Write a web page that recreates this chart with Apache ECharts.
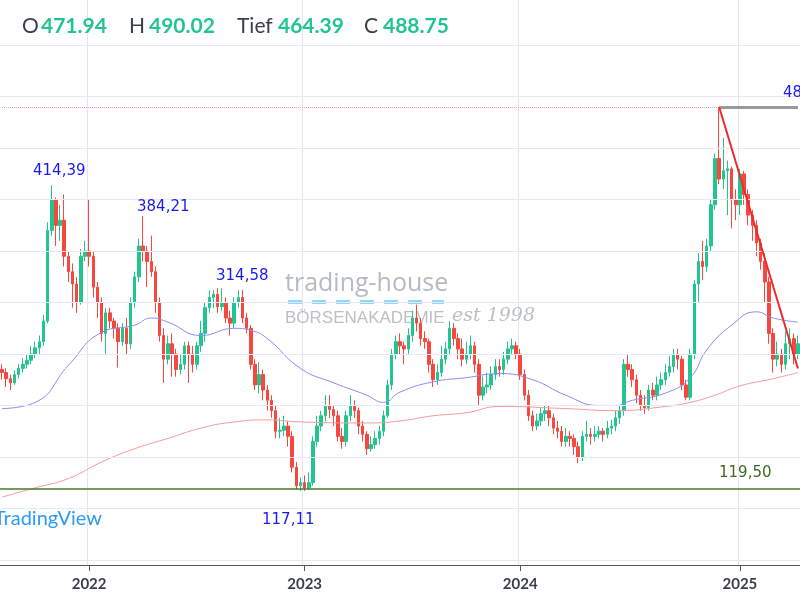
<!DOCTYPE html>
<html>
<head>
<meta charset="utf-8">
<script src="https://cdn.jsdelivr.net/npm/echarts@6/dist/echarts.min.js"></script>
<style>
html, body { margin: 0; padding: 0; background: #fff; }
#chart { width: 800px; height: 600px; }
</style>
</head>
<body>
<div id="chart"></div>
<script>
// weekly candles, first week 2021-08-09
var startDate = '2021-08-09';
var firstOpen = 235;
var closes = [232,226,222,230,236,240,244,250,256,262,
	282,370,400,375,380,345,330,318,300,345,
	350,345,315,300,270,290,282,275,262,275,
	260,300,325,355,350,340,330,300,268,245,
	260,250,235,240,258,250,240,258,270,295,
	305,308,296,300,285,280,300,305,285,275,
	240,220,230,215,205,195,175,176,180,170,
	140,122,125,120,125,165,180,190,200,196,
	190,170,165,190,200,195,180,172,158,162,
	168,175,190,220,250,262,258,255,268,285,
	280,265,262,240,225,232,245,255,275,265,
	255,245,250,258,240,210,218,220,230,238,
	235,245,255,258,250,230,210,190,180,185,
	192,195,188,178,175,165,170,168,160,150,
	170,172,170,172,175,172,178,180,188,195,
	240,235,225,210,200,198,215,210,220,225,
	232,238,250,245,220,208,250,318,340,335,
	355,395,440,420,428,430,400,395,425,405,
	385,375,358,340,320,270,245,250,240,260,
	265,250,260];
var highs = [240,236,230,234,240,246,250,258,262,268,
	288,378,414,402,395,405,350,338,325,352,
	360,400,350,320,305,295,295,285,280,280,
	285,305,330,362,384,355,365,335,305,275,
	268,270,255,250,262,262,258,262,282,300,
	312,312,314,314,305,292,305,312,312,290,
	278,245,242,235,220,210,200,188,190,185,
	175,145,130,132,135,170,190,195,210,210,
	200,195,178,195,210,205,198,185,175,170,
	175,180,195,225,255,268,270,262,275,292,
	298,285,272,265,245,240,258,262,282,280,
	270,265,262,268,262,245,228,232,238,245,
	245,252,262,265,262,255,235,215,195,192,
	198,200,200,192,185,180,178,175,172,165,
	175,185,178,180,180,178,185,186,195,200,
	245,250,240,230,215,210,220,222,228,232,
	240,248,255,255,248,225,255,322,348,360,
	362,400,445,490,460,438,432,410,430,428,
	410,390,380,362,348,325,275,262,255,272,
	275,270,268];
var lows = [225,218,215,220,226,232,236,240,246,250,
	258,280,365,355,360,335,320,295,290,298,
	340,335,305,285,262,250,275,265,237,258,
	250,255,295,320,340,315,325,290,262,222,
	240,228,228,230,235,222,232,235,252,262,
	290,295,290,292,280,268,275,295,280,270,
	235,215,212,205,195,188,168,168,170,160,
	135,118,117,117,118,122,160,175,185,188,
	180,165,158,160,185,188,172,165,152,155,
	158,162,170,188,215,245,250,240,250,262,
	272,258,255,232,218,220,228,240,250,258,
	245,238,240,245,232,200,205,212,215,225,
	228,230,240,250,245,225,205,185,175,176,
	180,185,180,172,168,160,160,160,152,144,
	146,165,162,165,168,165,168,172,175,182,
	190,228,218,202,195,192,195,205,205,215,
	220,228,232,235,215,205,205,245,300,322,
	330,350,390,415,410,385,372,380,385,395,
	375,360,345,332,300,260,232,238,232,235,
	245,240,245];

// moving averages read at sample weeks (null between)
var maIdx   = [0,8,16,24,32,36,40,48,56,60,64,72,80,88,92,96,104,112,120,128,136,144,148,152,160,166,170,176,182,186,192];
var maBlue  = [197,203,239,271,278,285,281,268,275,273,265,236,222,210,203,213,223,227,231,225,210,200,200,205,212,227,254,278,291,285,281];
var redIdx  = [0,8,16,24,32,40,48,56,64,72,88,96,104,112,120,136,148,160,166,172,178,186,192];
var maRed   = [111,120,129,145,158,168,178,184,186,184,183,185,190,193,199,197,195,199,203,210,219,226,232];

var gridVals = [50,100,150,200,250,300,350,400,450,500,550];
var peakIdx = 173, peakHigh = 490.02;
var trendEnd = [192, 236];
var supportLevel = 119.5;

var dates = [];
var d0 = new Date(startDate + 'T00:00:00Z');
for( var i = 0; i < closes.length; i++ ){
	var d = new Date(d0.getTime() + i * 7 * 86400000);
	dates.push(d.toISOString().slice(0, 10));
}
var candles = [];
for( i = 0; i < closes.length; i++ ){
	var o = i === 0 ? firstOpen : closes[i - 1];
	candles.push([o, closes[i], lows[i], highs[i]]);
}
var fill = function(idx, vals){
	var arr = new Array(closes.length).fill(null);
	for( var k = 0; k < idx.length; k++ ) arr[idx[k]] = vals[k];
	return arr;
};
var yearStart = function(index){
	return index > 0 && dates[index].slice(0, 4) !== dates[index - 1].slice(0, 4);
};

var chart = echarts.init(document.getElementById('chart'));
var txt = function(x, y, s, color, size, weight, family){
	return {type:'text', left:x, top:y, z:10, style:{text:s, fill:color, font:(weight || 'normal') + ' ' + size + 'px ' + (family || 'Lato, sans-serif')}};
};
var lbl = function(x, y, s, color){
	return txt(x, y, s, color, 15, 'normal', '"DejaVu Sans", sans-serif');
};
chart.setOption({
	animation:false,
	grid:{left:0, right:0, top:0, bottom:35},
	xAxis:{
		type:'category', data:dates, boundaryGap:true,
		axisLine:{lineStyle:{color:'#555'}},
		axisTick:{show:true, interval:yearStart, alignWithLabel:true, length:6, lineStyle:{color:'#555'}},
		axisLabel:{interval:yearStart, formatter:function(v){return v.slice(0, 4);}, color:'#3a3f4a', fontSize:15, fontWeight:'bold', fontFamily:'Lato', margin:12},
		splitLine:{show:true, interval:yearStart, lineStyle:{color:'#e4e4f4'}}
	},
	yAxis:{type:'value', min:45, max:594, show:false, splitLine:{show:false}},
	series:[
		{
			type:'candlestick', data:candles, barWidth:3,
			itemStyle:{color:'#22c58d', color0:'#f7473f', borderColor:'#22c58d', borderColor0:'#f7473f', borderWidth:1},
			markLine:{
				silent:true, symbol:'none', label:{show:false},
				data:gridVals.map(function(v){return {yAxis:v, lineStyle:{color:'#e8e8f6', type:'solid', width:1}};})
					.concat([
						{yAxis:supportLevel, lineStyle:{color:'#4a7a2a', type:'solid', width:1.5}},
						[{coord:[0, peakHigh], lineStyle:{color:'#ec9cc0', type:'dotted', width:1}}, {coord:[peakIdx, peakHigh]}],
						[{coord:[peakIdx, peakHigh], lineStyle:{color:'#9a9a9a', type:'solid', width:3}}, {coord:[closes.length - 1, peakHigh]}],
						[{coord:[peakIdx, peakHigh], lineStyle:{color:'#ee2b2b', type:'solid', width:2}}, {coord:trendEnd}]
					])
			},
			z:3
		},
		{type:'line', data:fill(maIdx, maBlue), connectNulls:true, smooth:true, showSymbol:false, lineStyle:{color:'#8a8cf0', width:1}, z:4},
		{type:'line', data:fill(redIdx, maRed), connectNulls:true, smooth:true, showSymbol:false, lineStyle:{color:'#f59a9a', width:1}, z:4}
	],
	graphic:[
		txt(22, 16, 'O', '#3a3f4a', 21), txt(41, 16, '471.94', '#22c58d', 21, 'bold'),
		txt(129, 16, 'H', '#3a3f4a', 21), txt(149, 16, '490.02', '#22c58d', 21, 'bold'),
		txt(237, 16, 'Tief', '#3a3f4a', 21), txt(278, 16, '464.39', '#22c58d', 21, 'bold'),
		txt(364, 16, 'C', '#3a3f4a', 21), txt(383, 16, '488.75', '#22c58d', 21, 'bold'),
		lbl(33, 164, '414,39', '#1a1aee'), lbl(137, 200, '384,21', '#1a1aee'),
		lbl(216, 269, '314,58', '#1a1aee'), lbl(262, 513, '117,11', '#1a1aee'),
		lbl(719, 466, '119,50', '#3d6a1e'), lbl(783, 86, '488,75', '#1a1aee'),
		txt(-6, 509, 'TradingView', '#2c9cf0', 20),
		{type:'text', left:285, top:271, z:1, style:{text:'trading-house', fill:'rgba(140,150,160,0.65)', font:'25px "Open Sans", sans-serif'}},
		{type:'line', z:1, shape:{x1:288, y1:302, x2:444, y2:302}, style:{stroke:'rgba(90,190,245,0.65)', lineWidth:4, lineDash:[14, 10]}},
		{type:'text', left:285, top:310, z:1, style:{text:'BÖRSENAKADEMIE', fill:'rgba(140,150,160,0.6)', font:'17px "Liberation Sans", sans-serif'}},
		{type:'text', left:452, top:307, z:1, style:{text:'est 1998', fill:'rgba(140,150,160,0.6)', font:'italic 19px "DejaVu Serif", serif'}}
	]
});
</script>
</body>
</html>
